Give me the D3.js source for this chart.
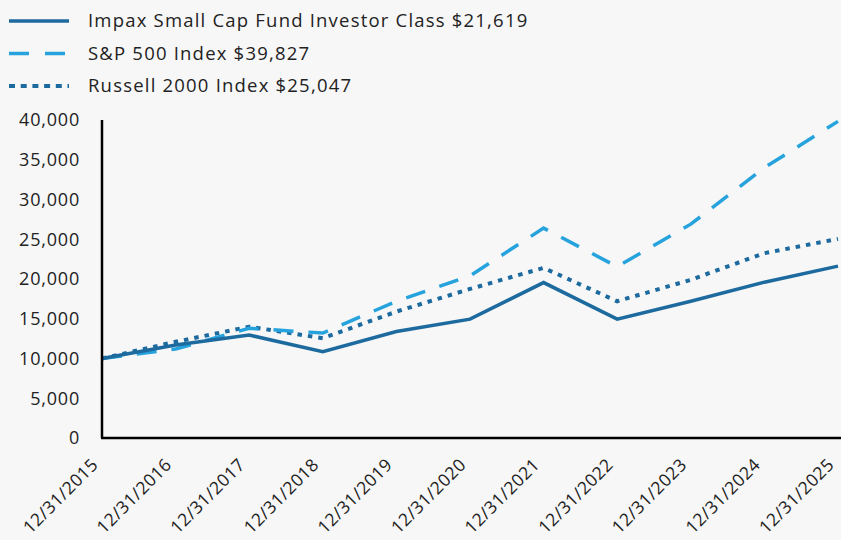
<!DOCTYPE html>
<html>
<head>
<meta charset="utf-8">
<script src="https://cdn.jsdelivr.net/npm/d3@7"></script>
<style>
  body { margin: 0; background: #f7f7f7; }
  text { font-family: "Open Sans", "Liberation Sans", Arial, sans-serif; fill: #222; }
</style>
</head>
<body>
<script>
var width = 841, height = 540;

var dates = ["12/31/2015","12/31/2016","12/31/2017","12/31/2018","12/31/2019","12/31/2020",
             "12/31/2021","12/31/2022","12/31/2023","12/31/2024","12/31/2025"];
var impax = [10000, 11700, 12950, 10850, 13400, 14950, 19550, 14950, 17200, 19600, 21619];
var sp500 = [10000, 11200, 13800, 13200, 17200, 20400, 26400, 21550, 26900, 34000, 39827];
var russell = [10000, 12100, 14000, 12550, 15900, 18750, 21400, 17200, 19900, 23250, 25047];
var yTicks = [0, 5000, 10000, 15000, 20000, 25000, 30000, 35000, 40000];

var series = [
  {name: "Impax Small Cap Fund Investor Class $21,619", values: impax, color: "#1d6a9f", dash: null, legDash: null, width: 3.5},
  {name: "S&P 500 Index $39,827", values: sp500, color: "#26a3dd", dash: "20,15", legDash: "20,16", width: 3.5},
  {name: "Russell 2000 Index $25,047", values: russell, color: "#1d6a9f", dash: "4.5,6", legDash: "6,5.7", width: 4}
];

var margin = {left: 102, right: 3, top: 120, bottom: 102};

var svg = d3.select("body").append("svg")
  .attr("width", width).attr("height", height);

svg.append("rect").attr("width", width).attr("height", height).attr("fill", "#f7f7f7");

var x = d3.scalePoint().domain(dates).range([margin.left, width - margin.right]);
var y = d3.scaleLinear().domain([0, 40000]).range([height - margin.bottom, margin.top]);

// y labels
svg.selectAll("text.ylab").data(yTicks).enter().append("text")
  .attr("class", "ylab")
  .attr("x", 80).attr("y", function(d) { return y(d); })
  .attr("dy", "0.35em")
  .attr("text-anchor", "end")
  .style("font-size", "18px")
  .style("letter-spacing", "0.8px")
  .text(d3.format(","));

// x labels
svg.selectAll("text.xlab").data(dates).enter().append("text")
  .attr("class", "xlab")
  .attr("transform", function(d) { return "translate(" + (x(d) - 3) + "," + 466 + ") rotate(-45)"; })
  .attr("text-anchor", "end")
  .style("font-size", "17.5px")
  .style("letter-spacing", "0.4px")
  .text(function(d) { return d; });

var line = d3.line()
  .x(function(d, i) { return x(dates[i]); })
  .y(function(d) { return y(d); });

// lines
[series[2], series[1], series[0]].forEach(function(s) {
  svg.append("path")
    .attr("d", line(s.values))
    .attr("fill", "none")
    .attr("stroke", s.color)
    .attr("stroke-width", s.width)
    .attr("stroke-dasharray", s.dash)
    .attr("stroke-linejoin", "miter");
});

// axes lines
svg.append("line")
  .attr("x1", margin.left).attr("x2", margin.left)
  .attr("y1", y(40000)).attr("y2", y(0))
  .attr("stroke", "#000").attr("stroke-width", 2.5);
svg.append("line")
  .attr("x1", margin.left - 1).attr("x2", width)
  .attr("y1", y(0)).attr("y2", y(0))
  .attr("stroke", "#000").attr("stroke-width", 2.5);

// legend
var leg = svg.selectAll("g.leg").data(series).enter().append("g")
  .attr("class", "leg")
  .attr("transform", function(d, i) { return "translate(0," + (21 + i * 32.5) + ")"; });
leg.append("line")
  .attr("x1", 9).attr("x2", 69).attr("y1", 0).attr("y2", 0)
  .attr("stroke", function(d) { return d.color; })
  .attr("stroke-width", function(d) { return d.width; })
  .attr("stroke-dasharray", function(d) { return d.legDash; });
leg.append("text")
  .attr("x", 88).attr("y", 0).attr("dy", "0.35em")
  .style("font-size", "18.5px")
  .style("letter-spacing", "1.2px")
  .text(function(d) { return d.name; });
</script>
</body>
</html>
